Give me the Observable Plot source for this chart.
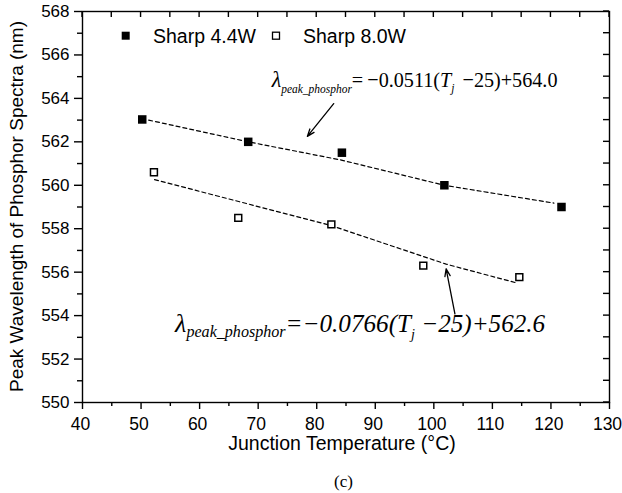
<!DOCTYPE html>
<html>
<head>
<meta charset="utf-8">
<script src="https://cdn.jsdelivr.net/npm/d3@7"></script>
<script src="https://cdn.jsdelivr.net/npm/@observablehq/plot@0.6"></script>
<style>
  html, body { margin: 0; padding: 0; background: white; }
</style>
</head>
<body>
<div id="chart"></div>
<script>
// ---- data ----
const seriesNames = ["Sharp 4.4W", "Sharp 8.0W"];
const temp44 = [50.2, 68.3, 84.3, 101.8, 121.8];
const peak44 = [563.03, 562.0, 561.5, 560.0, 559.0];
const temp80 = [52.2, 66.6, 82.5, 98.2, 114.6];
const peak80 = [560.6, 558.5, 558.2, 556.3, 555.77];

// dashed fitted lines as drawn
const fit44T = [51.3, 68.3, 84.2, 101.8, 120.5];
const fit44P = [563.0, 562.0, 561.16, 560.0, 559.18];
const fit80T = [52.3, 82.4, 102.1, 114.2];
const fit80P = [560.26, 558.15, 556.37, 555.5];

// annotation arrows (tail -> head)
const arrowFromT = [82.9, 103.6];
const arrowFromP = [563.76, 554.08];
const arrowToT = [78.4, 102.1];
const arrowToP = [562.25, 556.15];

// equation anchors (left edge, baseline) and right edge
const eqT = [72.4, 55.9];
const eqP = [564.5, 553.22];
const eqEndT = [121.2, 119.1];

// axes
const xTicks = [40, 50, 60, 70, 80, 90, 100, 110, 120, 130];
const xMinor = [45, 55, 65, 75, 85, 95, 105, 115, 125];
const yTicks = [550, 552, 554, 556, 558, 560, 562, 564, 566, 568];
const yMinor = [551, 553, 555, 557, 559, 561, 563, 565, 567];
const xTitle = "Junction Temperature (°C)";
const yTitle = "Peak Wavelength of Phosphor Spectra (nm)";
const caption = "(c)";

// ---- build tables ----
const pts44 = temp44.map((t, i) => ({t, p: peak44[i]}));
const pts80 = temp80.map((t, i) => ({t, p: peak80[i]}));
const fit44 = fit44T.map((t, i) => ({t, p: fit44P[i]}));
const fit80 = fit80T.map((t, i) => ({t, p: fit80P[i]}));
const arrows = arrowFromT.map((t, i) => ({x1: t, y1: arrowFromP[i], x2: arrowToT[i], y2: arrowToP[i]}));
const noText = () => "";
const allX = xTicks.concat(xMinor);
const allY = yTicks.concat(yMinor);

const W = 622, H = 493, ML = 82, MR = 13, MT = 11, MB = 91;

const plot = Plot.plot({
  width: W,
  height: H,
  marginLeft: ML,
  marginRight: MR,
  marginTop: MT,
  marginBottom: MB,
  x: {domain: [40, 130]},
  y: {domain: [550, 568]},
  style: {fontFamily: "'Liberation Sans', Arial, sans-serif", fontSize: "17px", color: "black", background: "white"},
  marks: [
    // bottom axis: labels, major and minor ticks (outward)
    Plot.axisX({ticks: xTicks, tickSize: 0, tickPadding: 15, fontSize: 17.5, dx: -2, label: null}),
    Plot.axisX({ticks: xTicks, tickSize: 7, tickFormat: noText, label: null, strokeWidth: 1.4}),
    Plot.axisX({ticks: xMinor, tickSize: 4, tickFormat: noText, label: null, strokeWidth: 1.4}),
    // left axis
    Plot.axisY({ticks: yTicks, tickSize: 8, tickPadding: 5, fontSize: 17, label: null, strokeWidth: 1.4}),
    Plot.axisY({ticks: yMinor, tickSize: 5, tickFormat: noText, label: null, strokeWidth: 1.4}),
    Plot.frame({stroke: "black", strokeWidth: 1.4}),
    Plot.line(fit44, {x: "t", y: "p", stroke: "black", strokeWidth: 1.2, strokeDasharray: "4,3"}),
    Plot.line(fit80, {x: "t", y: "p", stroke: "black", strokeWidth: 1.2, strokeDasharray: "4,3"}),
    Plot.dot(pts44, {x: "t", y: "p", symbol: "square", r: 4.8, fill: "black", stroke: "none"}),
    Plot.dot(pts80, {x: "t", y: "p", symbol: "square", r: 3.9, fill: "white", stroke: "black", strokeWidth: 1.5}),
    Plot.arrow(arrows, {x1: "x1", y1: "y1", x2: "x2", y2: "y2", stroke: "black", strokeWidth: 1.3, headLength: 9, headAngle: 40})
  ]
});

document.getElementById("chart").appendChild(plot);

const svg = d3.select(plot);
const xs = plot.scale("x");
const ys = plot.scale("y");

// inward ticks on top and right edges, placed with the plot's own scales
const tg = svg.append("g");
allX.forEach(v => {
  const px = xs.apply(v);
  tg.append("line").attr("x1", px).attr("x2", px).attr("y1", MT).attr("y2", MT + 6)
    .style("stroke", "black").style("stroke-width", "1.4px");
});
allY.forEach(v => {
  const py = ys.apply(v);
  tg.append("line").attr("x1", W - MR).attr("x2", W - MR - 6).attr("y1", py).attr("y2", py)
    .style("stroke", "black").style("stroke-width", "1.4px");
});

// axis titles
svg.append("text")
  .attr("x", 342).attr("y", 450)
  .attr("text-anchor", "middle")
  .style("font-family", "'Liberation Sans', Arial, sans-serif")
  .style("font-size", "19.5px")
  .attr("fill", "black")
  .text(xTitle);

svg.append("text")
  .attr("transform", "translate(23,206.5) rotate(-90)")
  .attr("text-anchor", "middle")
  .style("font-family", "'Liberation Sans', Arial, sans-serif")
  .style("font-size", "19px")
  .attr("fill", "black")
  .text(yTitle);

// caption
svg.append("text")
  .attr("x", 343.5).attr("y", 487)
  .attr("text-anchor", "middle")
  .style("font-family", "'Liberation Serif', 'Times New Roman', serif")
  .style("font-size", "17px")
  .attr("fill", "black")
  .text(caption);

// legend
const lg = svg.append("g")
  .attr("text-anchor", "start")
  .style("font-family", "'Liberation Sans', Arial, sans-serif")
  .style("font-size", "19.5px");
lg.append("rect").attr("x", 121.7).attr("y", 31.7).attr("width", 8).attr("height", 8).attr("fill", "black");
lg.append("text").attr("x", 153).attr("y", 42.5).attr("fill", "black").text(seriesNames[0]);
lg.append("rect").attr("x", 272.5).attr("y", 32.2).attr("width", 7).attr("height", 7).attr("fill", "white").attr("stroke", "black").attr("stroke-width", 1.3);
lg.append("text").attr("x", 303).attr("y", 42.5).attr("fill", "black").text(seriesNames[1]);

// equations
function addEq(x, y, xEnd, parts) {
  const t = svg.append("text")
    .attr("x", x).attr("y", y)
    .attr("text-anchor", "start")
    .style("font-family", "'Liberation Serif', 'Times New Roman', serif")
    .attr("fill", "black")
    .style("white-space", "pre");
  parts.forEach(p => {
    const ts = t.append("tspan").text(p.t).style("font-size", p.size + "px");
    if (p.italic) ts.style("font-style", "italic");
    if (p.dy) ts.attr("dy", p.dy);
  });
  t.attr("textLength", xEnd - x).attr("lengthAdjust", "spacingAndGlyphs");
  return t;
}
addEq(xs.apply(eqT[0]), ys.apply(eqP[0]), xs.apply(eqEndT[0]), [
  {t: "λ", size: 24, italic: true},
  {t: "peak_phosphor", size: 12.5, italic: true, dy: 6},
  {t: "=\u2009−0.0511(", size: 22, dy: -6},
  {t: "T", size: 22, italic: true},
  {t: "j", size: 12.5, italic: true, dy: 5},
  {t: "\u2009\u2009−25)+564.0", size: 22, dy: -5}
]);
addEq(xs.apply(eqT[1]), ys.apply(eqP[1]), xs.apply(eqEndT[1]), [
  {t: "λ", size: 26, italic: true},
  {t: "peak_phosphor", size: 16, italic: true, dy: 5},
  {t: "=−0.0766(", size: 25, italic: true, dy: -5},
  {t: "T", size: 25, italic: true},
  {t: "j", size: 14, italic: true, dy: 7},
  {t: " −25)+562.6", size: 25, italic: true, dy: -7}
]);
</script>
</body>
</html>
